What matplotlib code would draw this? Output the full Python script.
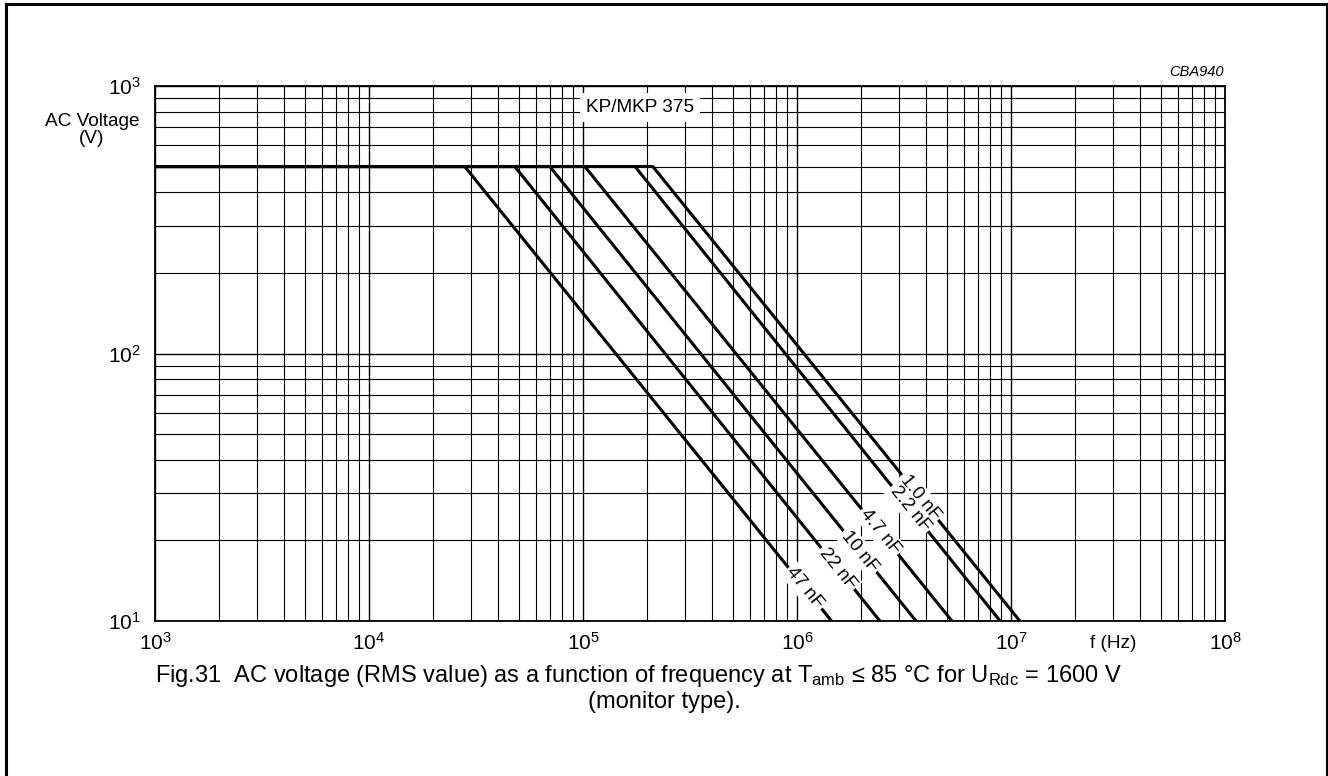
import math
import matplotlib
matplotlib.use("Agg")
import matplotlib.pyplot as plt
from matplotlib.ticker import LogLocator, LogFormatterSciNotation, NullFormatter
from matplotlib.patches import Rectangle

plt.rcParams['font.family'] = ['Liberation Sans', 'DejaVu Sans']
plt.rcParams['mathtext.fontset'] = 'custom'
plt.rcParams['mathtext.rm'] = 'Liberation Sans'
plt.rcParams['mathtext.it'] = 'Liberation Sans:italic'

# ---- data ----
capacitances = ["1.0 nF", "2.2 nF", "4.7 nF", "10 nF", "22 nF", "47 nF"]
v_max = 500.0           # flat AC voltage limit (V)
v_min = 10.0            # bottom of chart (V)
f_start = 1e3
break_freq = [2.12e5, 1.75e5, 1.02e5, 7.0e4, 4.8e4, 2.8e4]
end_freq = [1.10e7, 8.9e6, 5.3e6, 3.6e6, 2.44e6, 1.45e6]
label_freq = [3.76e6, 3.37e6, 2.44e6, 1.97e6, 1.55e6, 1.09e6]

fig = plt.figure(figsize=(13.28, 7.76), dpi=100)
ax = fig.add_axes([155/1328, 1-621/776, (1225-155)/1328, (621-86)/776])
ax.set_xscale('log')
ax.set_yscale('log')
ax.set_xlim(1e3, 1e8)
ax.set_ylim(10, 1e3)

ax.xaxis.set_major_locator(LogLocator(base=10, numticks=10))
ax.xaxis.set_minor_locator(LogLocator(base=10, subs=range(2, 10), numticks=20))
ax.yaxis.set_major_locator(LogLocator(base=10, numticks=10))
ax.yaxis.set_minor_locator(LogLocator(base=10, subs=range(2, 10), numticks=20))
ax.xaxis.set_major_formatter(LogFormatterSciNotation())
ax.yaxis.set_major_formatter(LogFormatterSciNotation())
ax.xaxis.set_minor_formatter(NullFormatter())
ax.yaxis.set_minor_formatter(NullFormatter())
ax.tick_params(which='both', length=0, labelsize=15, colors='black')
ax.tick_params(axis='x', pad=8)
ax.tick_params(axis='y', pad=10)

ax.grid(which='major', color='black', lw=1.0)
ax.grid(which='minor', color='black', lw=0.8)
for s in ax.spines.values():
    s.set_linewidth(1.3)

for name, fb, fe, fl in zip(capacitances, break_freq, end_freq, label_freq):
    ax.plot([f_start, fb, fe], [v_max, v_max, v_min], color='black', lw=2.2,
            solid_capstyle='butt', zorder=3, clip_on=True)
    slope = math.log10(v_max / v_min) / math.log10(fe / fb)
    vl = v_max * (fb / fl) ** slope
    ax.text(fl, vl, name, rotation=-51, rotation_mode='anchor', ha='center', va='center',
            fontsize=13.5, zorder=5,
            bbox=dict(boxstyle='square,pad=0.12', fc='white', ec='none'))

ax.text(1.85e5, 830, "KP/MKP 375", ha='center', va='center', fontsize=13.7, zorder=5,
        bbox=dict(boxstyle='square,pad=0.3', fc='white', ec='none'))

fig.text(1224/1328, 1-72/776, "CBA940", ha='right', va='center', fontsize=10.5, style='italic')
fig.text(92/1328, 1-130/776, "AC Voltage\n(V)", ha='center', va='center', fontsize=13.7,
         linespacing=0.95)
fig.text(1113/1328, 1-643/776, "f (Hz)", ha='center', va='center', fontsize=13.7)

fig.text(638/1328, 1-676/776,
         r"Fig.31  AC voltage (RMS value) as a function of frequency at T$_{\rm amb}$ ≤ 85 °C for U$_{\rm Rdc}$ = 1600 V",
         ha='center', va='center', fontsize=17)
fig.text(664/1328, 1-702/776, "(monitor type).", ha='center', va='center', fontsize=17)

fig.patches.append(Rectangle((6/1328, -4/776), (1327-6)/1328, (772+4)/776, transform=fig.transFigure,
                             fill=False, ec='black', lw=2.2))

fig.savefig("out.png", dpi=100)
